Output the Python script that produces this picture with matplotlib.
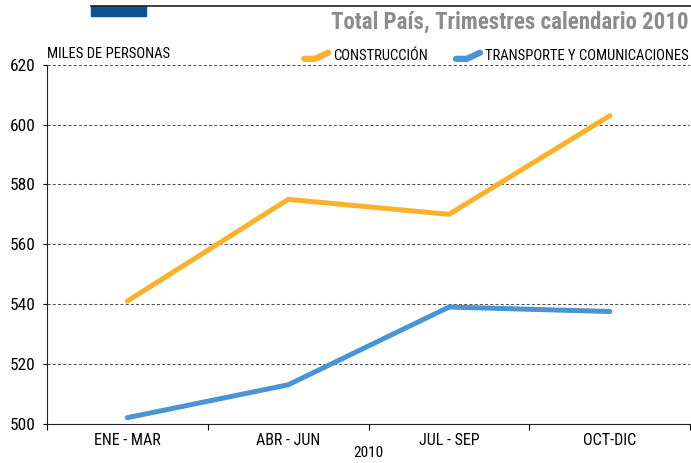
import matplotlib.pyplot as plt
from matplotlib.lines import Line2D
from matplotlib.patches import Rectangle
from matplotlib.legend_handler import HandlerBase

plt.rcParams['font.family'] = ['Roboto Condensed', 'DejaVu Sans']

trimestres = ['ENE - MAR', 'ABR - JUN', 'JUL - SEP', 'OCT-DIC']
construccion = [541, 575, 570, 603]
transporte = [502, 513, 539, 537.5]
series_names = ['CONSTRUCCIÓN', 'TRANSPORTE Y COMUNICACIONES']
yticks = [500, 520, 540, 560, 580, 600, 620]

c_orange = '#fbb12b'
c_blue = '#4a94d4'


class BentLine(HandlerBase):
    # little hook-shaped swatch like the original legend
    def create_artists(self, legend, orig, xd, yd, w, h, fontsize, trans):
        xs = [xd, xd + w * 0.45, xd + w]
        ys = [yd + h * 0.15, yd + h * 0.15, yd + h * 0.75]
        ln = Line2D(xs, ys, color=orig.get_color(), lw=4.5,
                    solid_capstyle='round', solid_joinstyle='round', transform=trans)
        return [ln]


fig = plt.figure(figsize=(6.91, 4.63), dpi=100)
ax = fig.add_axes([0.068, 0.085, 0.931, 0.775])

x = range(len(trimestres))
l1, = ax.plot(x, construccion, color=c_orange, lw=3.6, solid_capstyle='round')
l2, = ax.plot(x, transporte, color=c_blue, lw=3.6, solid_capstyle='round')

ax.set_xlim(-0.5, 3.5)
ax.set_ylim(500, 620)
ax.set_yticks(yticks)
ax.set_xticks([i - 0.5 for i in range(len(trimestres) + 1)])
ax.set_xticklabels([])
ax.set_xticks(list(x), minor=True)
ax.set_xticklabels(trimestres, minor=True)
ax.tick_params(axis='x', which='minor', length=0, pad=7, labelsize=11.5)
ax.tick_params(axis='x', which='major', length=4, direction='out')
ax.tick_params(axis='y', length=3, direction='out', labelsize=12.5, pad=5)
for t in yticks[1:]:
    ax.axhline(t, color='#555555', lw=0.75, ls=(0, (3, 2)), zorder=0)
ax.spines['top'].set_visible(False)
ax.spines['right'].set_visible(False)
ax.spines['bottom'].set_color('#222222')
ax.spines['left'].set_color('#222222')
ax.set_xlabel('2010', fontsize=11, labelpad=-2)

ax.text(0.0, 1.012, 'MILES DE PERSONAS', transform=ax.transAxes, fontsize=10.5,
        ha='left', va='bottom')
ax.legend([l1, l2], series_names, handler_map={l1: BentLine(), l2: BentLine()},
          loc='lower right', bbox_to_anchor=(1.0, 1.0), ncol=2, frameon=False,
          fontsize=10.5, handlelength=1.65, handletextpad=0.35, columnspacing=1.9,
          borderaxespad=0, borderpad=0.1)

fig.text(0.996, 0.952, 'Total País, Trimestres calendario 2010', ha='right', va='center',
         fontsize=16.5, fontweight='bold', color='#8c8c8c')
fig.add_artist(Line2D([91 / 691, 1.0], [1 - 6 / 463, 1 - 6 / 463], color='#222222', lw=1.2,
                      transform=fig.transFigure))
fig.add_artist(Rectangle((91 / 691, 1 - 16 / 463), 55 / 691, 10 / 463, color='#0b5394',
                         transform=fig.transFigure))

fig.savefig('out.png', dpi=100)
